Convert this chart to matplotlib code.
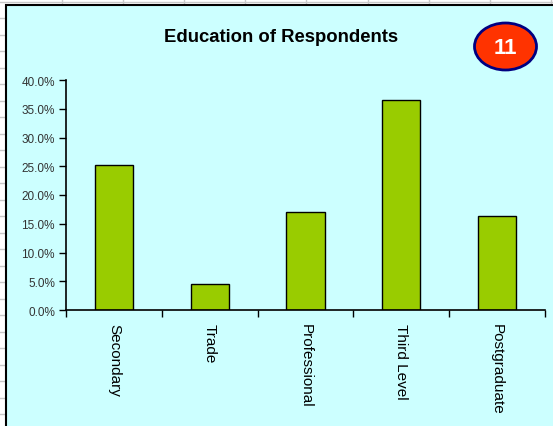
import matplotlib
matplotlib.use("Agg")
import matplotlib.pyplot as plt
from matplotlib.patches import Rectangle, Ellipse
from matplotlib.lines import Line2D
from matplotlib.ticker import PercentFormatter

# data
categories = ["Secondary", "Trade", "Professional", "Third Level", "Postgraduate"]
shares = [0.253, 0.046, 0.171, 0.365, 0.163]
badge_text = "11"

W, H = 553, 427
fig = plt.figure(figsize=(W / 100, H / 100), dpi=100)
fig.patch.set_facecolor("white")

# spreadsheet grid peeking out behind the chart object
grid_col = "#c8c8c8"
fig.add_artist(Line2D([0, 1], [1 - 3 / H, 1 - 3 / H], color=grid_col, lw=1, zorder=-3))
for k in range(9):
    gx = (61.5 + 61.2 * k) / W
    fig.add_artist(Line2D([gx, gx], [1 - 6 / H, 1], color=grid_col, lw=1, zorder=-3))
for k in range(26):
    gy = 1 - (19 + 16.5 * k) / H
    fig.add_artist(Line2D([0, 6 / W], [gy, gy], color=grid_col, lw=1, zorder=-3))

# chart area (drawn below the axes)
fig.add_artist(Rectangle((6 / W, -0.05), 1.1, 1.05 - 6 / H, transform=fig.transFigure,
                         facecolor="#ccffff", edgecolor="black", lw=1.5, zorder=-2))

ax = fig.add_axes([66 / W, 1 - 311 / H, (545 - 66) / W, (311 - 81) / H])
ax.set_facecolor("none")

x = range(len(categories))
ax.bar(x, shares, width=0.4, color="#99cc00", edgecolor="black", linewidth=1)

ax.set_xlim(-0.5, len(categories) - 0.5)
ax.set_ylim(0, 0.4)
ax.set_yticks([i * 0.05 for i in range(9)])
ax.yaxis.set_major_formatter(PercentFormatter(1.0, decimals=1))

ax.set_xticks(list(x))
ax.set_xticklabels(categories, rotation=270, fontsize=11, family="Liberation Sans")
ax.set_xticks([i - 0.5 for i in range(len(categories) + 1)], minor=True)
ax.tick_params(axis="x", which="major", length=0, pad=9)
ax.tick_params(axis="x", which="minor", length=5, direction="out", width=1)
ax.tick_params(axis="y", length=5, width=1, labelsize=8.5, pad=3, colors="black")
for lab in ax.get_yticklabels():
    lab.set_family("Liberation Sans")
    lab.set_color("#333333")

for side in ["top", "right"]:
    ax.spines[side].set_visible(False)
ax.spines["left"].set_linewidth(1.2)
ax.spines["bottom"].set_linewidth(1.2)

fig.text(281 / W, 1 - 37.5 / H, "Education of Respondents", ha="center", va="center",
         fontsize=13.3, fontweight="bold", family="Liberation Sans")

# red badge with the page number
fig.add_artist(Ellipse((505.5 / W, 1 - 47.5 / H), 62 / W, 47 / H, transform=fig.transFigure,
                       facecolor="#ff3300", edgecolor="#000080", lw=2))
fig.text(505.5 / W, 1 - 49 / H, badge_text, ha="center", va="center", color="white",
         fontsize=16, fontweight="bold", family="Liberation Sans")

fig.savefig("out.png", dpi=100)
